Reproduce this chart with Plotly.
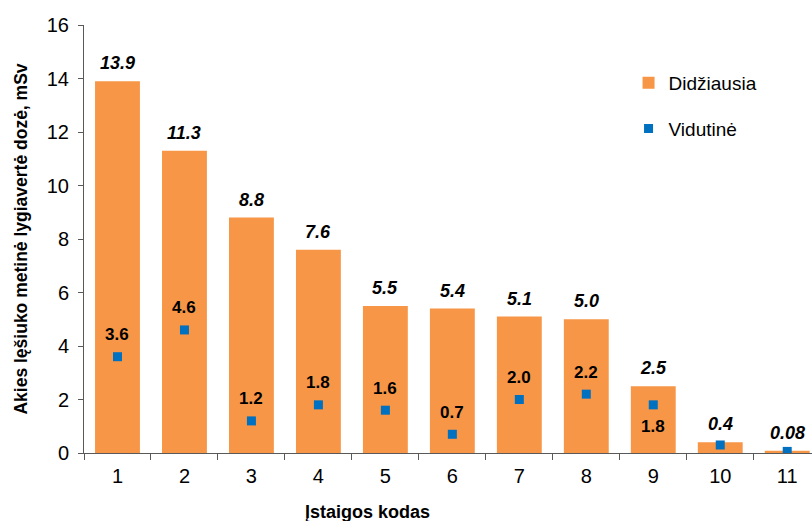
import plotly.graph_objects as go

# Institution codes and annual lens-of-eye equivalent doses (mSv)
codes = ["1", "2", "3", "4", "5", "6", "7", "8", "9", "10", "11"]
max_dose = [13.9, 11.3, 8.8, 7.6, 5.5, 5.4, 5.1, 5.0, 2.5, 0.4, 0.08]
max_labels = ["13.9", "11.3", "8.8", "7.6", "5.5", "5.4", "5.1", "5.0", "2.5", "0.4", "0.08"]
mean_dose = [3.6, 4.6, 1.2, 1.8, 1.6, 0.7, 2.0, 2.2, 1.8, 0.3, 0.06]
mean_labels = ["3.6", "4.6", "1.2", "1.8", "1.6", "0.7", "2.0", "2.2", "1.8", "", ""]
mean_label_below = [False, False, False, False, False, False, False, False, True, False, False]

ORANGE = "#F79646"
BLUE = "#0070C0"
FONT = "Liberation Sans, Arial, sans-serif"

fig = go.Figure()
fig.add_trace(go.Bar(
    x=codes, y=max_dose, name="Didžiausia",
    marker=dict(color=ORANGE, line=dict(width=0)),
    width=0.67, legendgroup="a",
))
fig.add_trace(go.Scatter(
    x=codes, y=mean_dose, name="Vidutinė", mode="markers",
    marker=dict(symbol="square", size=9, color=BLUE),
    legendgroup="b",
))

# category positions on the x axis are the list indexes
annotations = []
for i, (v, t) in enumerate(zip(max_dose, max_labels)):
    annotations.append(dict(
        x=i, y=v, xref="x", yref="y", text=f"<b><i>{t}</i></b>",
        showarrow=False, yanchor="middle", yshift=18,
        font=dict(family=FONT, size=18, color="#000000"),
    ))
for i, (v, t, below) in enumerate(zip(mean_dose, mean_labels, mean_label_below)):
    if not t:
        continue
    annotations.append(dict(
        x=i, y=v, xref="x", yref="y", text=f"<b>{t}</b>",
        showarrow=False, yanchor="middle", yshift=-22 if below else 22,
        font=dict(family=FONT, size=17, color="#000000"),
    ))
annotations.append(dict(
    x=0.39, y=-0.138, xref="paper", yref="paper", text="<b>Įstaigos kodas</b>",
    showarrow=False, xanchor="center", yanchor="middle",
    font=dict(family=FONT, size=18, color="#000000"),
))

fig.update_layout(
    width=812, height=521,
    margin=dict(l=84, r=0, t=25, b=68),
    paper_bgcolor="white", plot_bgcolor="white",
    font=dict(family=FONT, size=20, color="#000000"),
    showlegend=True,
    legend=dict(
        x=0.748, y=0.909, xanchor="left", yanchor="top",
        font=dict(family=FONT, size=19, color="#000000"),
        tracegroupgap=18, bgcolor="rgba(0,0,0,0)",
        itemwidth=30,
    ),
    annotations=annotations,
)
fig.update_xaxes(
    type="category", range=[-0.5, 10.37],
    showline=True, linecolor="#595959", linewidth=1,
    ticks="outside", tickson="boundaries", ticklen=6, tickcolor="#595959",
    tickfont=dict(family=FONT, size=20, color="#000000"), ticklabelstandoff=5,
    showgrid=False, zeroline=False, automargin=False,
)
fig.update_yaxes(
    range=[0, 16], dtick=2, tick0=0,
    showline=True, linecolor="#595959", linewidth=1,
    ticks="outside", ticklen=5, tickcolor="#595959",
    tickfont=dict(family=FONT, size=20, color="#000000"), ticklabelstandoff=5,
    showgrid=False, zeroline=False, automargin=False,
    title=dict(text="<b>Akies lęšiuko metinė lygiavertė dozė, mSv</b>",
               font=dict(family=FONT, size=17.5, color="#000000"), standoff=14),
)

fig.write_html("out.html")
